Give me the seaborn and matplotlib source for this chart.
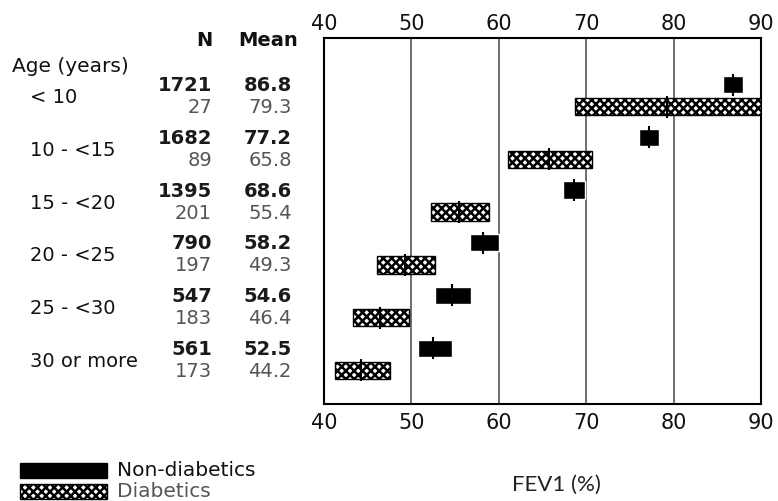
import numpy as np
import pandas as pd
import matplotlib
matplotlib.use("Agg")
import matplotlib.pyplot as plt
import seaborn as sns
from matplotlib.transforms import blended_transform_factory
from matplotlib.patches import Rectangle

# age groups and values
ages = ["< 10", "10 - <15", "15 - <20", "20 - <25", "25 - <30", "30 or more"]
n_non = [1721, 1682, 1395, 790, 547, 561]
mean_non = [86.8, 77.2, 68.6, 58.2, 54.6, 52.5]
lo_non = [85.7, 76.1, 67.3, 56.7, 52.7, 50.8]
hi_non = [87.9, 78.3, 69.9, 60.0, 56.8, 54.6]
n_dia = [27, 89, 201, 197, 183, 173]
mean_dia = [79.3, 65.8, 55.4, 49.3, 46.4, 44.2]
lo_dia = [68.7, 61.0, 52.2, 46.1, 43.3, 41.3]
hi_dia = [90.0, 70.7, 58.9, 52.7, 49.7, 47.5]
xticks = [40, 50, 60, 70, 80, 90]

off = 0.21
grp = np.arange(len(ages))
df = pd.concat([
    pd.DataFrame({"age": ages, "status": "Non-diabetics", "ypos": grp - off,
                  "n": n_non, "mean": mean_non, "lo": lo_non, "hi": hi_non}),
    pd.DataFrame({"age": ages, "status": "Diabetics", "ypos": grp + off,
                  "n": n_dia, "mean": mean_dia, "lo": lo_dia, "hi": hi_dia}),
])

sns.set_theme(style="white")
plt.rcParams["font.family"] = ["DejaVu Sans"]
plt.rcParams["hatch.linewidth"] = 1.8

fig = plt.figure(figsize=(7.78, 5.02), dpi=100)
ax = fig.add_axes([0.4165, 0.193, 0.5615, 0.729])

non = df[df.status == "Non-diabetics"]
dia = df[df.status == "Diabetics"]
ax.barh(non.ypos, non.hi - non.lo, left=non.lo, height=0.33, color="black", zorder=3)
ax.barh(dia.ypos, dia.hi - dia.lo, left=dia.lo, height=0.33, color="white",
        edgecolor="black", hatch="xxxx", linewidth=1, zorder=3)
sns.scatterplot(data=df, x="mean", y="ypos", marker="|", s=240, color="black",
                linewidth=1.5, ax=ax, legend=False, zorder=4)

ax.set_xlim(40, 90)
ax.set_ylim(5.85, -1.09)
ax.set_xticks(xticks)
ax.set_yticks([])
ax.set_xlabel("")
ax.set_ylabel("")
ax.tick_params(axis="x", bottom=False, top=False, length=0, labelsize=15,
               pad=6, labelcolor="#111")
top = ax.secondary_xaxis("top")
top.set_xticks(xticks)
top.tick_params(length=0, labelsize=15, pad=3.5, labelcolor="#111")
top.spines["top"].set_visible(False)
ax.grid(True, axis="x", color="#555", linewidth=1.2, zorder=0)
for s in ax.spines.values():
    s.set_color("black")
    s.set_linewidth(1.5)

# table on the left
tr = blended_transform_factory(fig.transFigure, ax.transData)
ax.text(0.2725, -1.07, "N", transform=tr, ha="right", va="center", fontsize=14,
        fontweight="semibold", color="#111")
ax.text(0.383, -1.07, "Mean", transform=tr, ha="right", va="center", fontsize=14,
        fontweight="semibold", color="#111")
ax.text(0.015, -0.58, "Age (years)", transform=tr, ha="left", va="center",
        fontsize=14.5, color="#111")
for i, a in enumerate(ages):
    ax.text(0.038, i + 0.02, a, transform=tr, ha="left", va="center", fontsize=14,
            color="#111")
for _, r in df.iterrows():
    dark = r.status == "Non-diabetics"
    col = "#1a1a1a" if dark else "#555"
    fw = "semibold" if dark else "normal"
    ax.text(0.2725, r.ypos, f"{r.n}", transform=tr, ha="right", va="center",
            fontsize=14, color=col, fontweight=fw)
    ax.text(0.375, r.ypos, f"{r['mean']:.1f}", transform=tr, ha="right",
            va="center", fontsize=14, color=col, fontweight=fw)

# legend at the bottom left
fig.add_artist(Rectangle((20 / 778, 1 - 479 / 502), 87 / 778, 15 / 502,
                         transform=fig.transFigure, facecolor="black",
                         edgecolor="black"))
fig.add_artist(Rectangle((20 / 778, 1 - 500 / 502), 87 / 778, 15 / 502,
                         transform=fig.transFigure, facecolor="white",
                         edgecolor="black", hatch="xxxx", linewidth=1))
fig.text(117 / 778, 1 - 471 / 502, "Non-diabetics", ha="left", va="center",
         fontsize=14.5, color="#111")
fig.text(117 / 778, 1 - 492 / 502, "Diabetics", ha="left", va="center",
         fontsize=14.5, color="#555")

fig.text(556 / 778, 1 - 485 / 502, "FEV1 (%)", ha="center", va="center",
         fontsize=16, color="#222", family=["Lato", "DejaVu Sans"])

fig.savefig("out.png", dpi=100)
